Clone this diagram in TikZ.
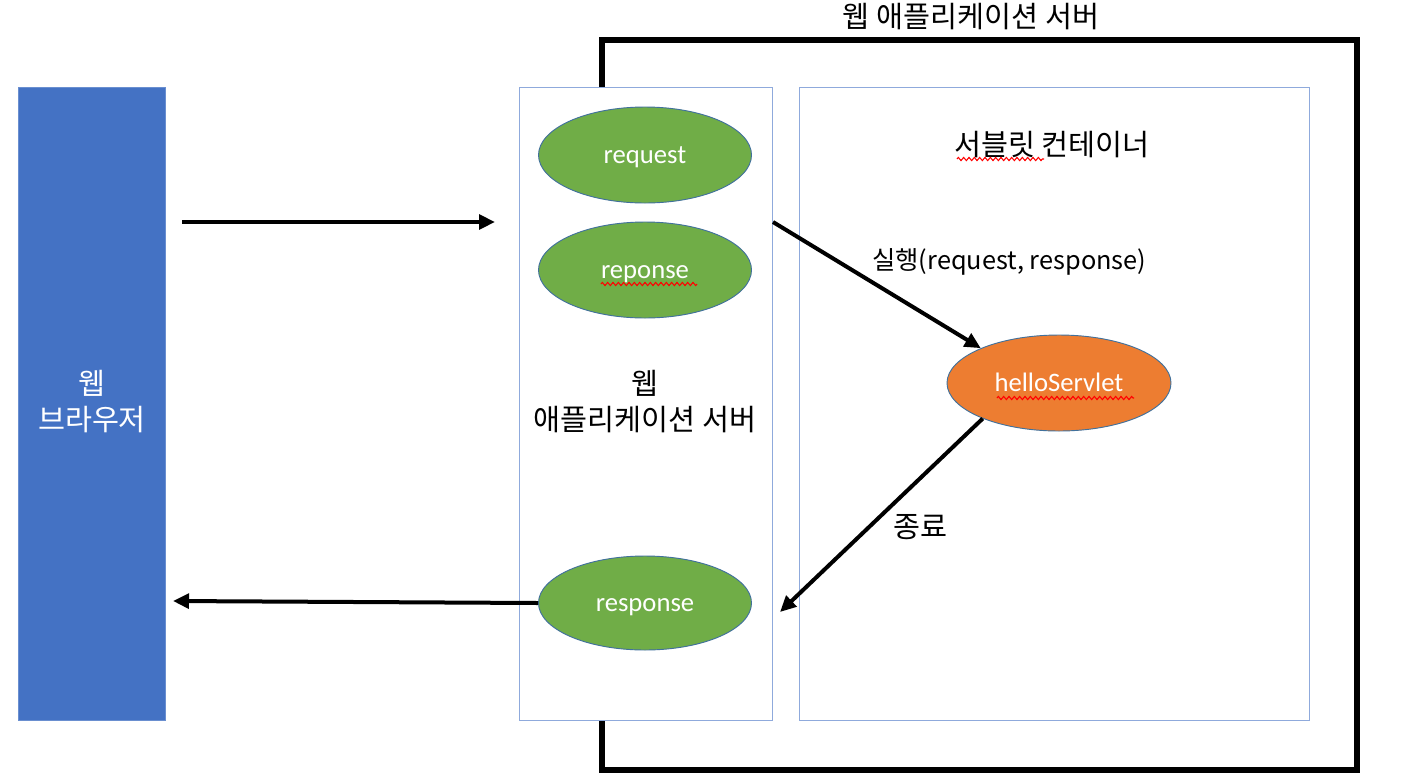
\documentclass[tikz,border=0pt]{standalone}
\usepackage{fontspec}
\setmainfont{Noto Sans CJK KR}
\newfontfamily\lat{Carlito}
\usetikzlibrary{arrows.meta,shapes.geometric,decorations.pathmorphing}
\definecolor{browserblue}{HTML}{4472C4}
\definecolor{browseredge}{HTML}{6A8FD0}
\definecolor{boxedge}{HTML}{8FAADC}
\definecolor{ellgreen}{HTML}{70AD47}
\definecolor{ellorange}{HTML}{ED7D31}
\definecolor{elledge}{HTML}{41719C}
\newcommand{\elltext}[1]{\raisebox{-6pt}[0pt][0pt]{#1}}
\tikzset{
  flow/.style={line width=3pt,-{Triangle[length=12pt,width=11pt]}},
  panel/.style={draw=boxedge,line width=0.9pt,fill=white,rectangle,inner sep=0pt,anchor=north west},
  obj/.style={ellipse,draw=elledge,line width=0.7pt,inner sep=0pt,text=white,font=\lat\fontsize{20}{24}\selectfont},
  lbl/.style={font=\fontsize{22}{27}\selectfont,align=center,inner sep=0pt},
  squig/.style={red,line width=0.8pt,decorate,decoration={zigzag,amplitude=1.2pt,segment length=4pt}}
}
\begin{document}
\begin{tikzpicture}[x=0.75pt,y=-0.75pt]
\useasboundingbox (0,0) rectangle (1407,783);
% outer server frame
\draw[line width=4.5pt] (602,40) rectangle (1357,770);
\node[lbl] (title) at (971,17) {웹 애플리케이션 서버};
% browser
\node[draw=browseredge,fill=browserblue,line width=0.8pt,minimum width=147*0.75pt,minimum height=633*0.75pt,inner sep=0pt,anchor=north west] (browser) at (18,87) {};
\node[lbl,text=white] (browserlbl) at (92,402) {웹\\브라우저};
% web application server box
\node[panel,minimum width=253*0.75pt,minimum height=633*0.75pt] (was) at (519,87) {};
\node[lbl] (waslbl) at (645,402) {웹\\애플리케이션 서버};
% servlet container box
\node[panel,minimum width=510*0.75pt,minimum height=633*0.75pt] (sc) at (799,87) {};
\node[lbl] (sclbl) at (1052,145) {서블릿 컨테이너};
% ellipses
\node[obj,fill=ellgreen,minimum width=213*0.75pt,minimum height=96*0.75pt] (req) at (645,155) {\elltext{request}};
\node[obj,fill=ellgreen,minimum width=213*0.75pt,minimum height=96*0.75pt] (rep) at (645,270) {\elltext{reponse}};
\node[obj,fill=ellgreen,minimum width=213*0.75pt,minimum height=94*0.75pt] (resp) at (645,603) {\elltext{response}};
\node[obj,fill=ellorange,minimum width=224*0.75pt,minimum height=96*0.75pt] (hs) at (1059,383) {\elltext{helloServlet}};
% spell-check marks
\draw[squig] (601,284) -- (697,284);
\draw[squig] (997,398) -- (1134,398);
\draw[squig] (957,159) -- (1044,159);
% connectors
\coordinate (a1s) at (182,222);
\coordinate (a1e) at (495,222);
\coordinate (a2s) at (773,222);
\coordinate (a3e) at (780,612);
\coordinate (a4e) at (173,601);
\draw[flow] (a1s) -- (a1e);
\draw[flow] (a2s) -- (hs.156);
\draw[flow] (hs.205) -- (a3e);
\draw[flow] (resp.west) -- (a4e);
% labels
\node[lbl,anchor=west,font=\fontsize{19}{23}\selectfont] (runlbl) at (872,262) {실행(request, response)};
\node[lbl] (endlbl) at (920,527) {종료};
\end{tikzpicture}
\end{document}
